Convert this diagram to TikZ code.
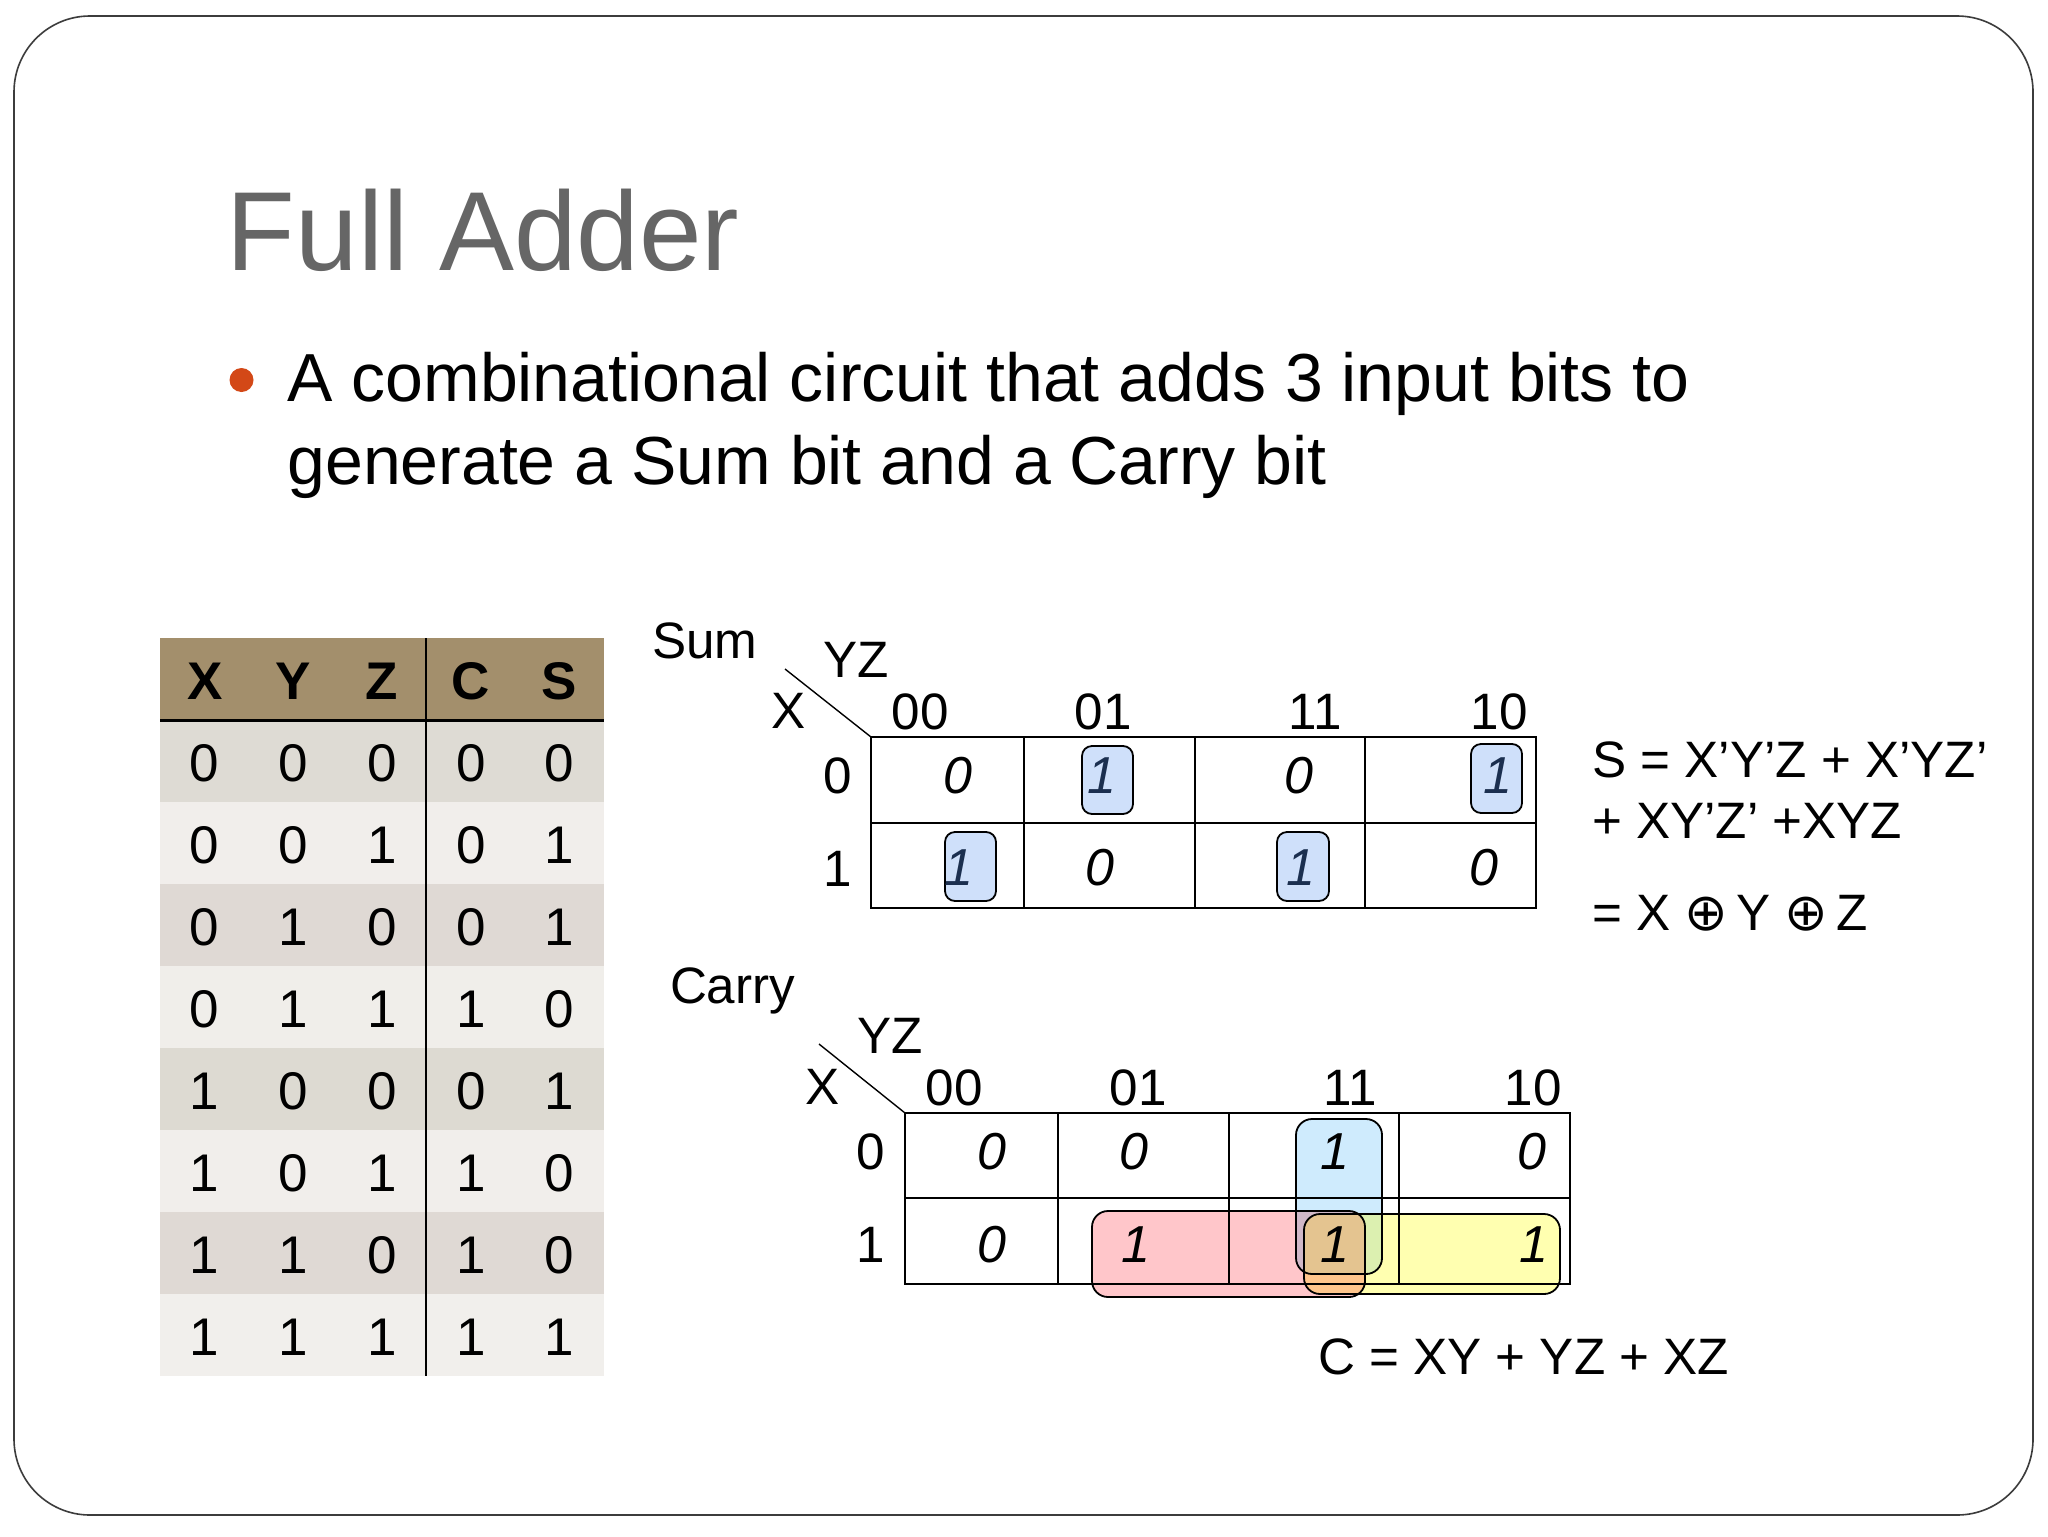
\documentclass[tikz,border=0pt]{standalone}
\usepackage{fontspec}
\setmainfont{Liberation Sans}
\newfontfamily\djv{DejaVu Sans}
\definecolor{hdr}{HTML}{A38F6C}
\definecolor{frameC}{HTML}{3C3C3C}
\definecolor{titleC}{HTML}{666666}
\definecolor{bulletC}{HTML}{D34817}
\definecolor{cellB}{HTML}{CFE0FA}
\definecolor{navy}{HTML}{1B2F4F}
\definecolor{bOnly}{HTML}{CFEBFD}
\definecolor{rOnly}{HTML}{FFC6CA}
\definecolor{yOnly}{HTML}{FFFFB0}
\definecolor{byC}{HTML}{DCF0B0}
\definecolor{rbC}{HTML}{D0B8C8}
\definecolor{ryC}{HTML}{FFC58C}
\definecolor{rbyC}{HTML}{E4C490}
\tikzset{
  txt/.style={inner sep=0pt,outer sep=0pt,font=\fontsize{25.6}{26}\selectfont},
  cellnum/.style={txt,font=\fontsize{26}{26}\selectfont\itshape},
  tbl/.style={inner sep=0pt,outer sep=0pt,font=\fontsize{26.5}{26.5}\selectfont},
  tblh/.style={inner sep=0pt,outer sep=0pt,font=\fontsize{26.5}{26.5}\selectfont\bfseries},
  grid/.style={draw=black,line width=1pt},
  one/.style={draw=black,line width=0.9pt,fill=cellB,rounded corners=5pt},
  ring/.style={draw=black,line width=0.9pt,rounded corners=8pt},
}
\newcommand{\xo}{{\djv\fontsize{26}{26}\selectfont ⊕}\kern-3pt}
\begin{document}
\begin{tikzpicture}[x=0.5pt,y=-0.5pt]
\useasboundingbox (0,0) rectangle (2048,1536);
\fill[white] (0,0) rectangle (2048,1536);
\draw[frameC,line width=0.8pt,rounded corners=38pt] (14,16) rectangle (2033,1515);
% title and bullet
\node[anchor=base west,inner sep=0pt,text=titleC,font=\fontsize{56.2}{56}\selectfont] (title) at (226.5,270) {Full Adder};
\fill[bulletC] (241.5,380) circle (6pt);
\node[anchor=base west,inner sep=0pt,font=\fontsize{34}{34}\selectfont] (l1) at (287,401) {A combinational circuit that adds 3 input bits to};
\node[anchor=base west,inner sep=0pt,font=\fontsize{34}{34}\selectfont] (l2) at (287,484) {generate a Sum bit and a Carry bit};
% truth table
\fill[hdr] (160,638) rectangle (604,720);
\foreach \i/\c in {0/DEDBD4,1/F1EEEB,2/DFD9D4,3/F0EEEA,4/DDDAD2,5/F1EEEB,6/DFD9D4,7/F1EFEC}{
  \definecolor{rowC}{HTML}{\c}
  \fill[rowC] (160,720+82*\i) rectangle (604,802+82*\i);
}
\draw[black,line width=1.5pt] (160,720) -- (604,720);
\draw[black,line width=1.2pt] (426,638) -- (426,1376);
\foreach \n/\x in {X/205,Y/293,Z/382,C/471,S/559}
  \node[tblh] (h\n) at (\x,681) {\n};
\foreach \i/\a/\b/\c/\d/\e in {0/0/0/0/0/0,1/0/0/1/0/1,2/0/1/0/0/1,3/0/1/1/1/0,4/1/0/0/0/1,5/1/0/1/1/0,6/1/1/0/1/0,7/1/1/1/1/1}{
  \node[tbl] (tx\i) at (204,763+82*\i) {\a};
  \node[tbl] (ty\i) at (293,763+82*\i) {\b};
  \node[tbl] (tz\i) at (382,763+82*\i) {\c};
  \node[tbl] (tc\i) at (471,763+82*\i) {\d};
  \node[tbl] (ts\i) at (559,763+82*\i) {\e};
}
% Sum map
\node[txt,anchor=base] (sumL) at (705,658) {Sum};
\draw[one] (1082,746) rectangle (1133,814);
\draw[one] (1471,744) rectangle (1522,813);
\draw[one] (945,832) rectangle (996,901);
\draw[one] (1277,832) rectangle (1329,901);
\draw[grid] (871,737) rectangle (1536,908);
\draw[grid] (871,823) -- (1536,823);
\foreach \x in {1024,1195,1365} \draw[grid] (\x,737) -- (\x,908);
\coordinate (sc) at (871,737);
\coordinate (sd) at (785,669);
\draw[black,line width=0.7pt] (sd) -- (sc);
\node[txt] (sYZ) at (856,660) {YZ};
\node[txt] (sX) at (789,711) {X};
\foreach \t/\x/\n in {00/920/a,01/1103/b,11/1315/c,10/1499/d}
  \node[txt] (sh\n) at (\x,712) {\t};
\node[txt] (sr0) at (838,776) {0};
\node[txt] (sr1) at (838,869) {1};
\node[cellnum] (s00) at (958,776) {0};
\node[cellnum,text=navy] (s01) at (1102,776) {1};
\node[cellnum] (s02) at (1299,776) {0};
\node[cellnum,text=navy] (s03) at (1498,776) {1};
\node[cellnum,text=navy] (s10) at (959,868) {1};
\node[cellnum] (s11) at (1100,868) {0};
\node[cellnum,text=navy] (s12) at (1301,868) {1};
\node[cellnum] (s13) at (1484,868) {0};
% Sum equations
\node[txt,anchor=base west] (e1) at (1592,777) {S = X’Y’Z + X’YZ’};
\node[txt,anchor=base west] (e2) at (1592,838) {+ XY’Z’ +XYZ};
\node[txt,anchor=base west] (e3) at (1592,930) {= X \xo{} Y \xo{} Z};
% Carry map
\node[txt,anchor=base west] (carL) at (670,1003) {Carry};
\def\blueR{(1296,1119) rectangle (1382,1274)}
\def\redR{(1092,1211) rectangle (1365,1297)}
\def\yelR{(1304,1214) rectangle (1560,1294)}
\fill[bOnly,rounded corners=8pt] \blueR;
\fill[rOnly,rounded corners=8pt] \redR;
\fill[yOnly,rounded corners=8pt] \yelR;
\begin{scope}
  \clip[rounded corners=8pt] \blueR;
  \fill[rbC,rounded corners=8pt] \redR;
  \fill[byC,rounded corners=8pt] \yelR;
\end{scope}
\begin{scope}
  \clip[rounded corners=8pt] \redR;
  \fill[ryC,rounded corners=8pt] \yelR;
  \clip[rounded corners=8pt] \blueR;
  \fill[rbyC,rounded corners=8pt] \yelR;
\end{scope}
\draw[grid] (905,1113) rectangle (1570,1284);
\draw[grid] (905,1198) -- (1570,1198);
\foreach \x in {1058,1229,1399} \draw[grid] (\x,1113) -- (\x,1284);
\draw[ring] \blueR;
\draw[ring] \redR;
\draw[ring] \yelR;
\coordinate (cc) at (905,1113);
\coordinate (cd) at (819,1044);
\draw[black,line width=0.7pt] (cd) -- (cc);
\node[txt] (cYZ) at (890,1036) {YZ};
\node[txt] (cX) at (823,1087) {X};
\foreach \t/\x/\n in {00/954,01/1138,11/1350,10/1533}
  \node[txt] (ch\t) at (\x,1087.5) {\t};
\node[txt] (cr0) at (871,1152) {0};
\node[txt] (cr1) at (871,1245) {1};
\node[cellnum] (c00) at (992,1152) {0};
\node[cellnum] (c01) at (1134,1152) {0};
\node[cellnum] (c02) at (1335,1152) {1};
\node[cellnum] (c03) at (1532,1152) {0};
\node[cellnum] (c10) at (992,1245) {0};
\node[cellnum] (c11) at (1136,1245) {1};
\node[cellnum] (c12) at (1335,1245) {1};
\node[cellnum] (c13) at (1534,1245) {1};
\node[txt,anchor=base west] (e4) at (1318,1374) {C = XY + YZ + XZ};
\end{tikzpicture}
\end{document}
